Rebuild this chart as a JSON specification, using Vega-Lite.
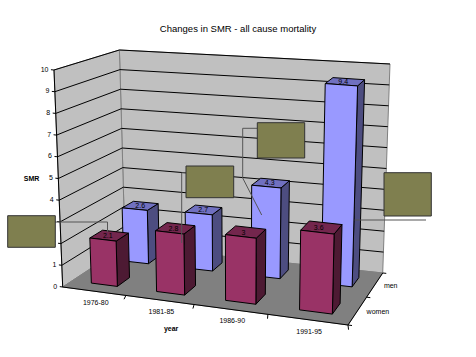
{"$schema":"https://vega.github.io/schema/vega-lite/v6.json","width":476,"height":357,"padding":0,"autosize":{"type":"none"},"background":"white","view":{"stroke":null},
"title":{"text":"Changes in SMR - all cause mortality","anchor":"middle","frame":"group","offset":-33,"font":"Liberation Sans","fontSize":9.5,"fontWeight":"normal","color":"#000000"},
"datasets":{"smr":[
{"year":"1976-80","sex":"women","SMR":2.1},{"year":"1981-85","sex":"women","SMR":2.8},{"year":"1986-90","sex":"women","SMR":3},{"year":"1991-95","sex":"women","SMR":3.6},
{"year":"1976-80","sex":"men","SMR":2.6},{"year":"1981-85","sex":"men","SMR":2.7},{"year":"1986-90","sex":"men","SMR":4.3},{"year":"1991-95","sex":"men","SMR":9.4}]},
"encoding":{"x":{"field":"px","type":"quantitative","scale":{"domain":[0,476],"nice":false,"zero":false},"axis":null},"y":{"field":"py","type":"quantitative","scale":{"domain":[357,0],"nice":false,"zero":false},"axis":null},"order":{"field":"seq","type":"quantitative"}},
"layer":[
{"data":{"values":[{"part":"back"},{"part":"left"},{"part":"floor"}]},
"transform":[{"calculate":"[[[0,1,0,0],[1,1,0,1],[1,1,10,2],[0,1,10,3],[0,1,0,4]],[[0,0,0,0],[0,1,0,1],[0,1,10,2],[0,0,10,3],[0,0,0,4]],[[0,0,0,0],[1,0,0,1],[1,1,0,2],[0,1,0,3],[0,0,0,4]]][indexof(['back','left','floor'],datum.part)]","as":"pts"},{"flatten":["pts"]},{"calculate":"datum.pts[0]","as":"U"},{"calculate":"datum.pts[1]","as":"V"},{"calculate":"datum.pts[2]","as":"W"},{"calculate":"datum.pts[3]","as":"seq"},
{"calculate":"1-0.14574*datum.U+0.12672*datum.V","as":"D"},{"calculate":"(62.7+234.58*datum.U+78.14*datum.V)/datum.D","as":"X0"},{"calculate":"(287-9.37*datum.U-9.83*datum.V)/datum.D","as":"Y0"},{"calculate":"datum.X0+0.005*(datum.X0-236.7)*datum.W","as":"px"},{"calculate":"datum.Y0-datum.W*((1-datum.U)*((1-datum.V)*21.7+datum.V*19.6)+datum.U*((1-datum.V)*22.5+datum.V*20.9))","as":"py"}],
"layer":[
{"transform":[{"filter":"datum.part!='floor'"}],"mark":{"type":"line","fill":"#c0c0c0","stroke":"#808080","strokeWidth":1},"encoding":{"detail":{"field":"part"}}},
{"transform":[{"filter":"datum.part=='floor'"}],"mark":{"type":"line","fill":"#808080","stroke":"#808080","strokeWidth":1},"encoding":{"detail":{"field":"part"}}}]},
{"data":{"values":[{"tick":0,"label":"0"},{"tick":1,"label":"1"},{"tick":2,"label":"2"},{"tick":3,"label":"3"},{"tick":4,"label":"4"},{"tick":5,"label":"5"},{"tick":6,"label":"6"},{"tick":7,"label":"7"},{"tick":8,"label":"8"},{"tick":9,"label":"9"},{"tick":10,"label":"10"}]},
"transform":[{"calculate":"[[-0.012,0,0],[0,0,1],[0,1,2],[1,1,3]]","as":"pts"},{"flatten":["pts"]},{"calculate":"datum.pts[0]","as":"U"},{"calculate":"datum.pts[1]","as":"V"},{"calculate":"datum.tick","as":"W"},{"calculate":"datum.pts[2]","as":"seq"},
{"calculate":"1-0.14574*datum.U+0.12672*datum.V","as":"D"},{"calculate":"(62.7+234.58*datum.U+78.14*datum.V)/datum.D","as":"X0"},{"calculate":"(287-9.37*datum.U-9.83*datum.V)/datum.D","as":"Y0"},{"calculate":"datum.X0+0.005*(datum.X0-236.7)*datum.W","as":"px"},{"calculate":"datum.Y0-datum.W*((1-datum.U)*((1-datum.V)*21.7+datum.V*19.6)+datum.U*((1-datum.V)*22.5+datum.V*20.9))","as":"py"}],
"layer":[
{"transform":[{"filter":"datum.tick>0 && datum.tick<=10"}],"mark":{"type":"line","stroke":"#000000","strokeWidth":1},"encoding":{"detail":{"field":"tick"}}},
{"transform":[{"filter":"datum.tick==0 && datum.seq<=1"}],"mark":{"type":"line","stroke":"#000000","strokeWidth":1},"encoding":{"detail":{"field":"tick"}}},
{"transform":[{"filter":"datum.seq==0"}],"mark":{"type":"text","align":"right","baseline":"middle","dx":-2.5,"font":"Liberation Sans","fontSize":7,"color":"#000000"},"encoding":{"text":{"field":"label"}}},
{"transform":[{"filter":"datum.seq==1 && datum.tick==5"}],"mark":{"type":"text","align":"center","baseline":"middle","dx":-26.7,"font":"Liberation Sans","fontSize":7,"fontWeight":"bold","color":"#000000"},"encoding":{"text":{"value":"SMR"}}}]},
{"data":{"values":[{"edge":"y"},{"edge":"front"},{"edge":"right"},{"edge":"t1"},{"edge":"t2"},{"edge":"t3"},{"edge":"t4"},{"edge":"r0"},{"edge":"r1"},{"edge":"r2"}]},
"transform":[{"calculate":"[[[0,0,0,0],[0,0,10,1]],[[0,0,0,0],[1,0,0,1]],[[1,0,0,0],[1,1,0,1]],[[0.25,0,0,0],[0.26,-0.07,0,1]],[[0.5,0,0,0],[0.51,-0.07,0,1]],[[0.75,0,0,0],[0.76,-0.07,0,1]],[[1,0,0,0],[1.01,-0.07,0,1]],[[1,0,0,0],[1.012,0,0,1]],[[1,0.5,0,0],[1.012,0.5,0,1]],[[1,1,0,0],[1.012,1,0,1]]][indexof(['y','front','right','t1','t2','t3','t4','r0','r1','r2'],datum.edge)]","as":"pts"},{"flatten":["pts"]},{"calculate":"datum.pts[0]","as":"U"},{"calculate":"datum.pts[1]","as":"V"},{"calculate":"datum.pts[2]","as":"W"},{"calculate":"datum.pts[3]","as":"seq"},
{"calculate":"1-0.14574*datum.U+0.12672*datum.V","as":"D"},{"calculate":"(62.7+234.58*datum.U+78.14*datum.V)/datum.D","as":"X0"},{"calculate":"(287-9.37*datum.U-9.83*datum.V)/datum.D","as":"Y0"},{"calculate":"datum.X0+0.005*(datum.X0-236.7)*datum.W","as":"px"},{"calculate":"datum.Y0-datum.W*((1-datum.U)*((1-datum.V)*21.7+datum.V*19.6)+datum.U*((1-datum.V)*22.5+datum.V*20.9))","as":"py"}],
"mark":{"type":"line","stroke":"#000000","strokeWidth":1},"encoding":{"detail":{"field":"edge"}}},
{"data":{"values":[{"label":"1976-80","k":0},{"label":"1981-85","k":1},{"label":"1986-90","k":2},{"label":"1991-95","k":3},{"label":"year","k":4},{"label":"men","k":5},{"label":"women","k":6}]},
"transform":[{"calculate":"[0.125,0.375,0.625,0.875,0.5,1,1][datum.k]","as":"U"},{"calculate":"[0,0,0,0,0,0.75,0.25][datum.k]","as":"V"},{"calculate":"0","as":"W"},{"calculate":"datum.k","as":"seq"},
{"calculate":"1-0.14574*datum.U+0.12672*datum.V","as":"D"},{"calculate":"(62.7+234.58*datum.U+78.14*datum.V)/datum.D","as":"X0"},{"calculate":"(287-9.37*datum.U-9.83*datum.V)/datum.D","as":"Y0"},{"calculate":"datum.X0","as":"px"},{"calculate":"datum.Y0","as":"py"}],
"layer":[
{"transform":[{"filter":"datum.k<4"}],"mark":{"type":"text","align":"center","baseline":"middle","dx":2,"dy":12,"font":"Liberation Sans","fontSize":7,"color":"#000000"},"encoding":{"text":{"field":"label"}}},
{"transform":[{"filter":"datum.k==4"}],"mark":{"type":"text","align":"center","baseline":"middle","dx":-23,"dy":24,"font":"Liberation Sans","fontSize":7,"fontWeight":"bold","color":"#000000"},"encoding":{"text":{"field":"label"}}},
{"transform":[{"filter":"datum.k>4"}],"mark":{"type":"text","align":"left","baseline":"middle","dx":9,"dy":1,"font":"Liberation Sans","fontSize":7,"color":"#000000"},"encoding":{"text":{"field":"label"}}}]},
{"data":{"name":"smr"},
"transform":[{"calculate":"[0.13,0.385,0.635,0.883][indexof(['1976-80','1981-85','1986-90','1991-95'],datum.year)]","as":"uc"},{"calculate":"datum.uc-0.052","as":"uL"},{"calculate":"datum.uc+0.052","as":"uR"},{"calculate":"datum.sex=='men'?0.66:0.14","as":"vf"},{"calculate":"datum.sex=='men'?0.855:0.335","as":"vb"},{"calculate":"['side','top','front']","as":"face"},{"flatten":["face"]},{"calculate":"[0,1,2,3,4]","as":"seq"},{"flatten":["seq"]},{"calculate":"[0,1,2,3,0][datum.seq]","as":"c"},
{"calculate":"datum.face=='side'?datum.uR:((datum.c==1||datum.c==2)?datum.uR:datum.uL)","as":"U"},
{"calculate":"datum.face=='front'?datum.vf:(datum.face=='top'?((datum.c>=2)?datum.vb:datum.vf):((datum.c==1||datum.c==2)?datum.vb:datum.vf))","as":"V"},
{"calculate":"datum.face=='top'?datum.SMR:((datum.c>=2)?datum.SMR:0)","as":"W"},
{"calculate":"1-0.14574*datum.U+0.12672*datum.V","as":"D"},{"calculate":"(62.7+234.58*datum.U+78.14*datum.V)/datum.D","as":"X0"},{"calculate":"(287-9.37*datum.U-9.83*datum.V)/datum.D","as":"Y0"},{"calculate":"datum.X0+0.005*(datum.X0-236.7)*datum.W","as":"px"},{"calculate":"datum.Y0-datum.W*((1-datum.U)*((1-datum.V)*21.7+datum.V*19.6)+datum.U*((1-datum.V)*22.5+datum.V*20.9))","as":"py"}],
"layer":[
{"transform":[{"filter":"datum.sex=='men'&&datum.face=='side'"}],"mark":{"type":"line","fill":"#4d4d80","stroke":"#000000","strokeWidth":1},"encoding":{"detail":{"field":"year"}}},
{"transform":[{"filter":"datum.sex=='men'&&datum.face=='top'"}],"mark":{"type":"line","fill":"#7070c0","stroke":"#000000","strokeWidth":1},"encoding":{"detail":{"field":"year"}}},
{"transform":[{"filter":"datum.sex=='men'&&datum.face=='front'"}],"mark":{"type":"line","fill":"#9999ff","stroke":"#000000","strokeWidth":1},"encoding":{"detail":{"field":"year"}}},
{"transform":[{"filter":"datum.sex=='men'&&datum.face=='top'&&datum.seq==0"},{"calculate":"datum.SMR+''","as":"lab"}],"mark":{"type":"text","align":"center","baseline":"middle","dx":18,"dy":-2,"font":"Liberation Sans","fontSize":7,"color":"#000000"},"encoding":{"text":{"field":"lab"}}},
{"transform":[{"filter":"datum.sex=='women'&&datum.face=='side'"}],"mark":{"type":"line","fill":"#4d1a33","stroke":"#000000","strokeWidth":1},"encoding":{"detail":{"field":"year"}}},
{"transform":[{"filter":"datum.sex=='women'&&datum.face=='top'"}],"mark":{"type":"line","fill":"#73264d","stroke":"#000000","strokeWidth":1},"encoding":{"detail":{"field":"year"}}},
{"transform":[{"filter":"datum.sex=='women'&&datum.face=='front'"}],"mark":{"type":"line","fill":"#993366","stroke":"#000000","strokeWidth":1},"encoding":{"detail":{"field":"year"}}},
{"transform":[{"filter":"datum.sex=='women'&&datum.face=='top'&&datum.seq==0"},{"calculate":"datum.SMR+''","as":"lab"}],"mark":{"type":"text","align":"center","baseline":"middle","dx":18,"dy":-2,"font":"Liberation Sans","fontSize":7,"color":"#000000"},"encoding":{"text":{"field":"lab"}}}]},
{"data":{"values":[{"callout":0},{"callout":1},{"callout":2},{"callout":3}]},
"transform":[{"calculate":"[[[55,222,0],[107.5,222,1],[107.5,232,2]],[[186,172.7,0],[181.7,172.7,1],[181.7,243,2]],[[257.3,128.3,0],[242.7,128.3,1],[242.7,178,2],[261.7,215,3]],[[354.7,220,0],[426,220,1]]][datum.callout]","as":"pts"},{"flatten":["pts"]},{"calculate":"datum.pts[0]","as":"px"},{"calculate":"datum.pts[1]","as":"py"},{"calculate":"datum.pts[2]","as":"seq"}],
"mark":{"type":"line","stroke":"#555555","strokeWidth":1},"encoding":{"detail":{"field":"callout"}}},
{"data":{"values":[{"callout":0},{"callout":1},{"callout":2},{"callout":3}]},
"transform":[{"calculate":"[[7.7,55.3,215.7,247.3],[186,233.7,166,197.7],[257.3,304.7,122.7,158],[384,431.3,172.7,216]][datum.callout]","as":"b"},{"calculate":"[0,1,2,3,4]","as":"seq"},{"flatten":["seq"]},{"calculate":"(datum.seq==1||datum.seq==2)?datum.b[1]:datum.b[0]","as":"px"},{"calculate":"(datum.seq==2||datum.seq==3)?datum.b[3]:datum.b[2]","as":"py"}],
"mark":{"type":"line","fill":"#7f7f4f","stroke":"#333333","strokeWidth":1},"encoding":{"detail":{"field":"callout"}}}
]}
